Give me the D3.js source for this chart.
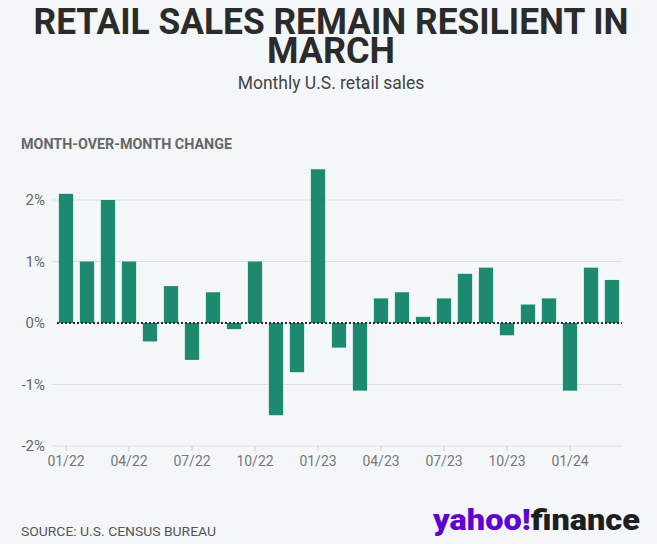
<!DOCTYPE html>
<html><head><meta charset="utf-8">
<script src="https://cdn.jsdelivr.net/npm/d3@7"></script>
<style>
html,body{margin:0;padding:0;background:#f4f7fa;}
svg{display:block;}
</style></head>
<body>
<svg id="chart" width="657" height="544"></svg>
<script>
const months = ["01/22","02/22","03/22","04/22","05/22","06/22","07/22","08/22","09/22","10/22","11/22","12/22",
"01/23","02/23","03/23","04/23","05/23","06/23","07/23","08/23","09/23","10/23","11/23","12/23",
"01/24","02/24","03/24"];
const values = [2.1,1.0,2.0,1.0,-0.3,0.6,-0.6,0.5,-0.1,1.0,-1.5,-0.8,
2.5,-0.4,-1.1,0.4,0.5,0.1,0.4,0.8,0.9,-0.2,0.3,0.4,
-1.1,0.9,0.7];
const yTicks = [-2,-1,0,1,2];
const xTickLabels = ["01/22","04/22","07/22","10/22","01/23","04/23","07/23","10/23","01/24"];

const svg = d3.select("#chart");
svg.append("rect").attr("width",657).attr("height",544).attr("fill","#f4f7fa");

const x = d3.scaleBand().domain(months).range([55.5,622.5]).paddingInner(0.32).paddingOuter(0.16);
const y = d3.scaleLinear().domain([-2,2.5]).range([446,169.25]);

// Title
const title = svg.append("text").attr("text-anchor","middle").attr("fill","#2b2b2b")
  .attr("font-family","Roboto, 'Open Sans', sans-serif").attr("font-weight","bold").attr("font-size",37);
title.append("tspan").attr("x",331).attr("y",34).attr("textLength",595).attr("lengthAdjust","spacingAndGlyphs").text("RETAIL SALES REMAIN RESILIENT IN");
title.append("tspan").attr("x",331).attr("y",63).attr("textLength",128).attr("lengthAdjust","spacingAndGlyphs").text("MARCH");

svg.append("text").attr("x",331).attr("y",89).attr("text-anchor","middle").attr("fill","#444")
  .attr("font-family","Roboto, sans-serif").attr("font-size",17.5).text("Monthly U.S. retail sales");

svg.append("text").attr("x",21).attr("y",149).attr("fill","#666")
  .attr("font-family","Roboto, sans-serif").attr("font-weight","bold").attr("font-size",15)
  .attr("textLength",211).attr("lengthAdjust","spacingAndGlyphs").text("MONTH-OVER-MONTH CHANGE");

// gridlines
svg.append("g").selectAll("line").data(yTicks.filter(d=>d!==0)).join("line")
  .attr("x1",52).attr("x2",622).attr("y1",d=>y(d)).attr("y2",d=>y(d))
  .attr("stroke","#dcdfe3").attr("stroke-width",1.2);

// y labels
svg.append("g").selectAll("text").data(yTicks).join("text")
  .attr("x",45).attr("y",d=>y(d)+5).attr("text-anchor","end").attr("fill","#666")
  .attr("font-family","Roboto, sans-serif").attr("font-size",15)
  .text(d=>d+"%");

// x axis
const xAxis = d3.axisBottom(x).tickValues(xTickLabels).tickSize(5).tickPadding(5);
const gx = svg.append("g").attr("transform","translate(0,446)").call(xAxis);
gx.select(".domain").remove();
gx.selectAll(".tick line").attr("stroke","#ccc");
gx.selectAll(".tick text").attr("fill","#777").attr("font-family","Roboto, sans-serif").attr("font-size",14);

// bars
svg.append("g").selectAll("rect").data(values).join("rect")
  .attr("x",(d,i)=>x(months[i]))
  .attr("width",x.bandwidth())
  .attr("y",d=>y(Math.max(0,d)))
  .attr("height",d=>Math.abs(y(d)-y(0)))
  .attr("fill","#1d8a70");

// zero dotted line
svg.append("line").attr("x1",57).attr("x2",622).attr("y1",y(0)).attr("y2",y(0))
  .attr("stroke","#2a2a2a").attr("stroke-width",2).attr("stroke-dasharray","2,2");

// source
svg.append("text").attr("x",21).attr("y",536).attr("fill","#555")
  .attr("font-family","Roboto, sans-serif").attr("font-size",13.5)
  .attr("textLength",195).attr("lengthAdjust","spacingAndGlyphs").text("SOURCE: U.S. CENSUS BUREAU");

// logo
const logo = svg.append("text").attr("x",433).attr("y",530)
  .attr("font-family","Roboto, sans-serif").attr("font-weight","900").attr("font-size",30)
  .attr("textLength",207).attr("lengthAdjust","spacingAndGlyphs");
logo.append("tspan").attr("fill","#6001d2").text("yahoo!");
logo.append("tspan").attr("fill","#1d1d24").text("finance");
</script>
</body></html>
